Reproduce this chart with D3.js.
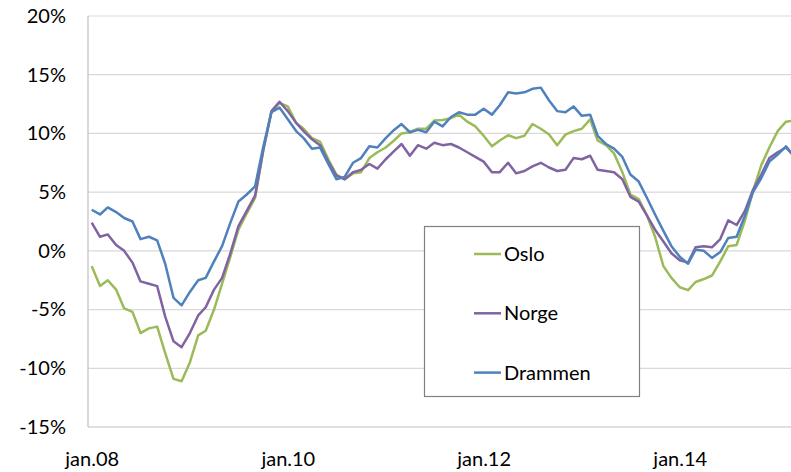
<!DOCTYPE html>
<html>
<head>
<meta charset="utf-8">
<script src="https://cdn.jsdelivr.net/npm/d3@7"></script>
<style>
  body { margin: 0; background: #fff; }
  text { font-family: Lato, "Liberation Sans", sans-serif; fill: #000; }
</style>
</head>
<body>
<script>
// monthly points, jan.08 .. mar.15
const months = d3.timeMonth.range(new Date(2008, 0, 1), new Date(2015, 3, 1))
const tickLabels = ['jan.08', 'jan.10', 'jan.12', 'jan.14']
const yTicks = [-15, -10, -5, 0, 5, 10, 15, 20]

const oslo = [-1.3, -3.0, -2.5, -3.3, -4.9, -5.2, -7.0, -6.6, -6.45, -8.7, -10.9, -11.1,
  -9.5, -7.2, -6.8, -5.0, -2.8, -0.5, 1.8, 3.2, 4.5, 8.5, 11.8, 12.6,
  12.3, 10.9, 10.4, 9.6, 9.3, 7.8, 6.5, 6.1, 6.6, 6.7, 7.9, 8.4,
  8.8, 9.4, 10.0, 10.1, 10.4, 10.4, 11.1, 11.15, 11.3, 11.6, 11.0, 10.6,
  9.8, 8.9, 9.4, 9.85, 9.6, 9.8, 10.8, 10.4, 9.9, 9.0, 9.9, 10.2,
  10.4, 11.2, 9.4, 9.0, 8.3, 6.7, 4.8, 4.4, 3.0, 1.2, -1.3, -2.3,
  -3.1, -3.35, -2.65, -2.4, -2.1, -0.9, 0.4, 0.5, 2.6, 5.1, 7.3, 8.8,
  10.2, 11.0, 11.1]

const norge = [2.4, 1.2, 1.4, 0.5, 0.0, -1.0, -2.6, -2.8, -3.0, -5.6, -7.7, -8.2,
  -7.0, -5.5, -4.8, -3.3, -2.3, -0.2, 2.1, 3.4, 4.7, 8.5, 11.9, 12.7,
  11.9, 10.9, 10.2, 9.5, 9.0, 7.6, 6.4, 6.1, 6.7, 6.9, 7.4, 7.0,
  7.8, 8.5, 9.1, 8.1, 9.0, 8.7, 9.2, 9.0, 9.1, 8.8, 8.4, 8.0,
  7.6, 6.7, 6.7, 7.5, 6.6, 6.8, 7.2, 7.5, 7.1, 6.8, 6.9, 7.9,
  7.8, 8.1, 6.9, 6.8, 6.7, 6.1, 4.6, 4.2, 3.0, 1.8, 0.8, -0.2,
  -0.8, -1.0, 0.3, 0.4, 0.3, 1.0, 2.6, 2.2, 3.4, 5.2, 6.5, 7.9,
  8.4, 8.8, 8.1]

const drammen = [3.5, 3.1, 3.7, 3.3, 2.8, 2.5, 1.0, 1.2, 0.9, -1.1, -4.0, -4.65,
  -3.5, -2.5, -2.3, -0.9, 0.4, 2.4, 4.2, 4.8, 5.5, 8.8, 11.8, 12.2,
  11.2, 10.2, 9.6, 8.7, 8.8, 7.4, 6.1, 6.3, 7.5, 7.9, 8.9, 8.8,
  9.6, 10.3, 10.8, 10.1, 10.3, 10.1, 11.0, 10.6, 11.4, 11.8, 11.6, 11.6,
  12.1, 11.6, 12.4, 13.5, 13.4, 13.5, 13.8, 13.9, 12.8, 11.9, 11.8, 12.3,
  11.5, 11.6, 9.8, 9.1, 8.7, 8.0, 6.5, 5.9, 4.5, 3.1, 1.7, 0.4,
  -0.5, -1.1, 0.1, 0.0, -0.6, -0.1, 1.1, 1.2, 3.0, 5.0, 6.2, 7.6,
  8.2, 8.9, 8.1]

const series = [
  { name: 'Oslo', values: oslo, color: '#9bbb59' },
  { name: 'Norge', values: norge, color: '#8064a2' },
  { name: 'Drammen', values: drammen, color: '#4f81bd' }
]

const w = 791
const h = 472
const plotLeft = 88
const plotTop = 16
const plotBottom = 427

const svg = d3.select('body')
  .append('svg')
  .attr('width', w)
  .attr('height', h)

const xScale = d3.scaleTime()
  .domain([months[0], months[months.length - 1]])
  .range([91.7, 793.5])

const yScale = d3.scaleLinear()
  .domain([-15, 20])
  .range([plotBottom, plotTop])

// gridlines
svg.append('g')
  .selectAll('line')
  .data(yTicks.filter(d => d !== -15))
  .enter()
  .append('line')
  .attr('x1', plotLeft)
  .attr('x2', w + 10)
  .attr('y1', d => yScale(d))
  .attr('y2', d => yScale(d))
  .attr('stroke', '#d9d9d9')
  .attr('stroke-width', 1.2)

// axis lines
svg.append('line')
  .attr('x1', plotLeft).attr('x2', w + 10)
  .attr('y1', plotBottom).attr('y2', plotBottom)
  .attr('stroke', '#bfbfbf').attr('stroke-width', 1.2)
svg.append('line')
  .attr('x1', plotLeft).attr('x2', plotLeft)
  .attr('y1', plotTop).attr('y2', plotBottom)
  .attr('stroke', '#bfbfbf').attr('stroke-width', 1.2)

const yAxis = d3.axisLeft(yScale)
  .tickValues(yTicks)
  .tickSize(0)
  .tickPadding(0)
  .tickFormat(d => d + '%')

svg.append('g')
  .attr('id', 'y-axis')
  .attr('transform', 'translate(66,0)')
  .call(yAxis)
  .call(g => g.select('.domain').remove())
  .selectAll('text')
  .attr('font-size', 20)
  .attr('font-family', 'Lato, sans-serif')

const tickDates = months.filter((d, i) => i % 24 === 0)
const xAxis = d3.axisBottom(xScale)
  .tickValues(tickDates)
  .tickSize(0)
  .tickPadding(0)
  .tickFormat((d, i) => tickLabels[i])

svg.append('g')
  .attr('id', 'x-axis')
  .attr('transform', 'translate(0,452)')
  .call(xAxis)
  .call(g => g.select('.domain').remove())
  .selectAll('text')
  .attr('font-size', 20)
  .attr('font-family', 'Lato, sans-serif')

const line = d3.line()
  .x((d, i) => xScale(months[i]))
  .y(d => yScale(d))

svg.selectAll('path.series')
  .data(series)
  .enter()
  .append('path')
  .attr('class', 'series')
  .attr('d', d => line(d.values))
  .attr('fill', 'none')
  .attr('stroke', d => d.color)
  .attr('stroke-width', 2.5)
  .attr('stroke-linejoin', 'round')

// legend
const legend = svg.append('g')
legend.append('rect')
  .attr('x', 424.5)
  .attr('y', 226.5)
  .attr('width', 215)
  .attr('height', 170)
  .attr('fill', '#fff')
  .attr('stroke', '#808080')
  .attr('stroke-width', 1.2)

const item = legend.selectAll('g.item')
  .data(series)
  .enter()
  .append('g')
  .attr('class', 'item')
  .attr('transform', (d, i) => 'translate(0,' + (254 + i * 59.3) + ')')

item.append('line')
  .attr('x1', 474)
  .attr('x2', 501)
  .attr('stroke', d => d.color)
  .attr('stroke-width', 2.5)

item.append('text')
  .attr('x', 504)
  .attr('dy', '0.35em')
  .attr('font-size', 20)
  .text(d => d.name)
</script>
</body>
</html>
